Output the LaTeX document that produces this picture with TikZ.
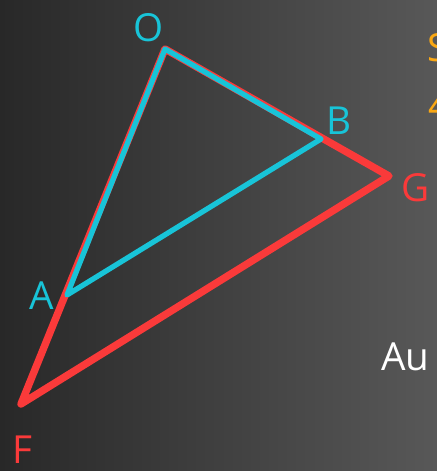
\documentclass[tikz,border=0pt]{standalone}
\usepackage{fontspec}
\setmainfont{Open Sans}
\usepackage{tikz}
\usetikzlibrary{calc}
\definecolor{boardl}{RGB}{40,40,40}
\definecolor{boardr}{RGB}{88,88,88}
\definecolor{tred}{RGB}{250,58,58}
\definecolor{tcyan}{RGB}{24,196,216}
\definecolor{torange}{RGB}{250,168,20}

\begin{document}
\begin{tikzpicture}[
  x=0.02cm, y=-0.02cm,
  font=\fontsize{22}{24}\selectfont,
  redside/.style={draw=tred, line width=4.2pt, line join=round, line cap=round},
  cyanside/.style={draw=tcyan, line width=3pt, line join=round, line cap=round},
  cyanlbl/.style={text=tcyan, inner sep=0pt},
  redlbl/.style={text=tred, inner sep=0pt}
]
\useasboundingbox (0,0) rectangle (437,471);
\clip (0,0) rectangle (437,471);
\shade[left color=boardl, right color=boardr] (0,0) rectangle (437,471);
% points
\coordinate (O) at (165,49);
\coordinate (G) at (389,176);
\coordinate (F) at (21,404);
\coordinate (B) at (321,139);
\coordinate (A) at (67,295);
% big triangle
\draw[redside] (O) -- (G) -- (F) -- cycle;
% small triangle
\draw[cyanside] (O) -- (B) -- (A) -- cycle;
% labels
\node[cyanlbl] (lO) at (149,28) {O};
\node[cyanlbl] (lB) at (339,121) {B};
\node[cyanlbl] (lA) at (42,296) {A};
\node[redlbl] (lG) at (416,188) {G};
\node[redlbl] (lF) at (22,450) {F};
\node[text=torange, inner sep=0pt, anchor=west] (lS) at (427,48) {S};
\node[text=torange, inner sep=0pt, anchor=west] (l4) at (428,106) {4};
\node[text=white, inner sep=0pt, anchor=west] (lAu) at (381,357) {Au};
\end{tikzpicture}
\end{document}
